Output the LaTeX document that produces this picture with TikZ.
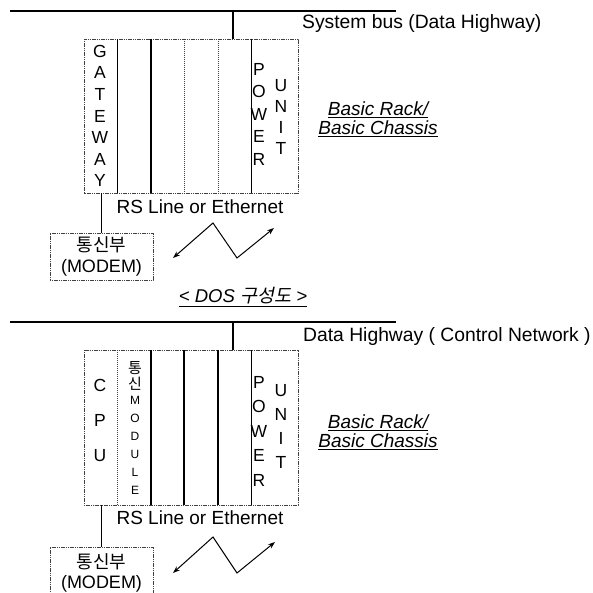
\documentclass[tikz,border=0pt]{standalone}
\usepackage{fontspec}
\setmainfont{Liberation Sans}
\newfontfamily\kr{Noto Sans CJK KR}
\newfontfamily\krit[FakeSlant=0.2]{Noto Sans CJK KR}
\usetikzlibrary{arrows.meta}
\tikzset{
  bus/.style={line width=2.6pt},
  stub/.style={line width=2.4pt},
  frame/.style={line width=0.7pt, black!75, dash pattern=on 1.2pt off 0.6pt},
  solidsep/.style={line width=0.7pt},
  thicksep/.style={line width=1.3pt},
  dotsep/.style={line width=0.7pt, black!75, dash pattern=on 1.2pt off 0.8pt},
  txt/.style={inner sep=0pt, font=\fontsize{19}{21}\selectfont},
  vert/.style={inner sep=0pt, align=center},
  link/.style={line width=0.7pt},
  zig/.style={line width=1pt, {Stealth[length=7pt,width=5pt]}-{Stealth[length=7pt,width=5pt]}},
}
\begin{document}
\begin{tikzpicture}[x=1pt,y=-1pt]
\useasboundingbox (0,0) rectangle (593,593);

% ================= TOP =================
\coordinate (b1l) at (10,11);
\coordinate (b1r) at (396,11);
\draw[bus] (b1l) -- (b1r);
\coordinate (s1t) at (233,11);
\coordinate (s1b) at (233,39);
\draw[stub] (s1t) -- (s1b);
\node[txt, anchor=west, font=\fontsize{19.3}{21}\selectfont] (sysbus) at (302,24) {System bus (Data Highway)};

% rack
\draw[frame] (84,39) rectangle (298,193);
\draw[solidsep] (117,39) -- (117,193);
\draw[thicksep] (151,39) -- (151,193);
\draw[dotsep] (184,39) -- (184,193);
\draw[dotsep] (218,39) -- (218,193);
\draw[solidsep] (251,39) -- (251,193);

\node[vert, font=\fontsize{17.5}{21.6}\selectfont] (gw) at (100,116) {G\\A\\T\\E\\W\\A\\Y};
\node[vert, font=\fontsize{17.5}{22.5}\selectfont] (pw1) at (259,114) {P\\O\\W\\E\\R};
\node[vert, font=\fontsize{17.5}{20.7}\selectfont] (un1) at (281,117) {U\\N\\I\\T};

\node[txt, font=\fontsize{19}{19}\selectfont\itshape, align=center] (br1) at (378,119)
  {\underline{Basic Rack/}\\\underline{Basic Chassis}};

\node[txt] (rs1) at (200,207) {RS Line or Ethernet};

% modem
\node[draw=black!75, line width=0.7pt, dash pattern=on 1.2pt off 0.6pt, minimum width=103pt, minimum height=47pt, inner sep=0pt, align=center,
      font=\fontsize{18}{21}\selectfont] (m1) at (101.5,256.5) {{\kr 통신부}\\(MODEM)};
\coordinate (g1) at (101,193);
\draw[link] (g1) -- (m1.north -| g1);

% zigzag
\coordinate (z1a) at (173,258);
\coordinate (z1b) at (213,223);
\coordinate (z1c) at (237,258);
\coordinate (z1d) at (274,228);
\draw[zig] (z1a) -- (z1b) -- (z1c) -- (z1d);

% title
\node[txt, font=\fontsize{18.5}{20}\selectfont\itshape] (title) at (243,297)
  {\underline{<\ DOS {\krit 구성도}\ >}};

% ================= BOTTOM =================
\coordinate (b2l) at (10,322);
\coordinate (b2r) at (396,322);
\draw[bus] (b2l) -- (b2r);
\coordinate (s2t) at (233,322);
\coordinate (s2b) at (233,350);
\draw[stub] (s2t) -- (s2b);
\node[txt, anchor=west, font=\fontsize{19.3}{21}\selectfont] (dh) at (303,337) {Data Highway ( Control Network )};

\draw[frame] (84,350) rectangle (298,505);
\draw[dotsep] (117,350) -- (117,505);
\draw[thicksep] (151,350) -- (151,505);
\draw[thicksep] (184,350) -- (184,505);
\draw[thicksep] (218,350) -- (218,505);
\draw[solidsep] (251,350) -- (251,505);

\node[vert, font=\fontsize{17.5}{35}\selectfont] (cpu) at (100,420) {C\\P\\U};
\node[vert, font=\fontsize{15}{16.5}\selectfont\kr] (tong) at (135,376) {통\\신};
\node[vert, font=\fontsize{12}{18}\selectfont] (mod) at (135,445) {M\\O\\D\\U\\L\\E};
\node[vert, font=\fontsize{17.5}{24.5}\selectfont] (pw2) at (259,431) {P\\O\\W\\E\\R};
\node[vert, font=\fontsize{17.5}{24}\selectfont] (un2) at (281,426) {U\\N\\I\\T};

\node[txt, font=\fontsize{19}{19}\selectfont\itshape, align=center] (br2) at (378,432)
  {\underline{Basic Rack/}\\\underline{Basic Chassis}};

\node[txt] (rs2) at (200,518) {RS Line or Ethernet};

% modem (cut off)
\coordinate (m2nw) at (50,547);
\coordinate (m2ne) at (153,547);
\coordinate (m2sw) at (50,594);
\coordinate (m2se) at (153,594);
\draw[frame] (m2sw) -- (m2nw) -- (m2ne) -- (m2se);
\node[vert, font=\fontsize{18}{20}\selectfont] (m2t) at (101.5,572.5) {{\kr 통신부}\\(MODEM)};
\coordinate (g2) at (101,505);
\draw[link] (g2) -- (m2nw -| g2);

\coordinate (z2a) at (173,573);
\coordinate (z2b) at (213,537);
\coordinate (z2c) at (237,573);
\coordinate (z2d) at (275,542);
\draw[zig] (z2a) -- (z2b) -- (z2c) -- (z2d);
\end{tikzpicture}
\end{document}
